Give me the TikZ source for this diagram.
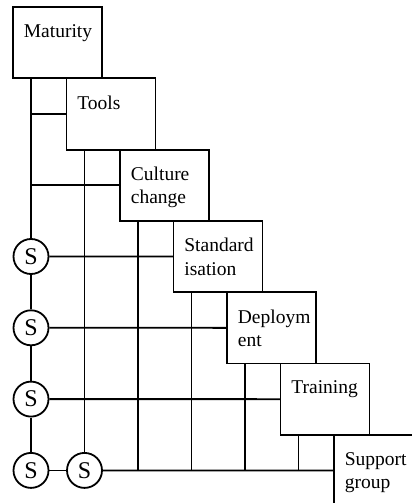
\documentclass[tikz,border=0pt]{standalone}
\usepackage{fontspec}
\setmainfont{Liberation Serif}
\begin{document}
\begin{tikzpicture}[x=1pt,y=-1pt,
  line width=1.8pt,
  stage/.style={draw, rectangle, anchor=north west, minimum width=89pt, minimum height=71.3pt, inner sep=0pt, outer sep=0pt},
  stagetext/.style={anchor=north west, inner sep=0pt, align=left, font=\fontsize{19.5}{23.4}\selectfont},
  sw/.style={draw, circle, minimum size=35pt, inner sep=0pt, font=\fontsize{24}{28}\selectfont}]
\useasboundingbox (0,0) rectangle (412,503);
\clip (0,0) rectangle (412,503);

% staircase of stages
\node[stage] (m)  at (13,7) {};
\node[stage] (t)  at (66.5,78.3) {};
\node[stage] (c)  at (120,149.6) {};
\node[stage] (s)  at (173.5,220.9) {};
\node[stage] (d)  at (227,292.2) {};
\node[stage] (tr) at (280.5,363.5) {};
\node[stage] (sg) at (334,434.8) {};

\node[stagetext] (m-l)  at ([shift={(10pt,-16.5pt)}]m.north west)  {Maturity};
\node[stagetext] (t-l)  at ([shift={(10pt,-16.5pt)}]t.north west)  {Tools};
\node[stagetext] (c-l)  at ([shift={(10pt,-16.5pt)}]c.north west)  {Culture\\change};
\node[stagetext] (s-l)  at ([shift={(10pt,-16.5pt)}]s.north west)  {Standard\\isation};
\node[stagetext] (d-l)  at ([shift={(10pt,-16.5pt)}]d.north west)  {Deploym\\ent};
\node[stagetext] (tr-l) at ([shift={(10pt,-16.5pt)}]tr.north west) {Training};
\node[stagetext] (sg-l) at ([shift={(10pt,-16.5pt)}]sg.north west) {Support\\group};

% switches
\node[sw] (S1) at (31,256.5) {S};
\node[sw] (S2) at (31,327.8) {S};
\node[sw] (S3) at (31,399.1) {S};
\node[sw] (S4) at (31,470.4) {S};
\node[sw] (S5) at (84.5,470.4) {S};

% left spine
\draw ([xshift=18pt]m.south west) -- (S1);
\draw (S1) -- (S2);
\draw (S2) -- (S3);
\draw (S3) -- (S4);
\draw (S4) -- (S5);
\draw (t.west) -- (t.west -| S1);
\draw (c.west) -- (c.west -| S1);

% rows into the stages
\draw (S1) -- (s.west);
\draw (S2) -- (d.west);
\draw (S3) -- (tr.west);
\draw (S5) -- (sg.west);

% drops from each stage to the bottom row
\draw ([xshift=18pt]t.south west) -- (S5);
\draw ([xshift=18pt]c.south west) -- ([xshift=18pt]c.south west |- sg.west);
\draw ([xshift=18pt]s.south west) -- ([xshift=18pt]s.south west |- sg.west);
\draw ([xshift=18pt]d.south west) -- ([xshift=18pt]d.south west |- sg.west);
\draw ([xshift=18pt]tr.south west) -- ([xshift=18pt]tr.south west |- sg.west);
\end{tikzpicture}
\end{document}
